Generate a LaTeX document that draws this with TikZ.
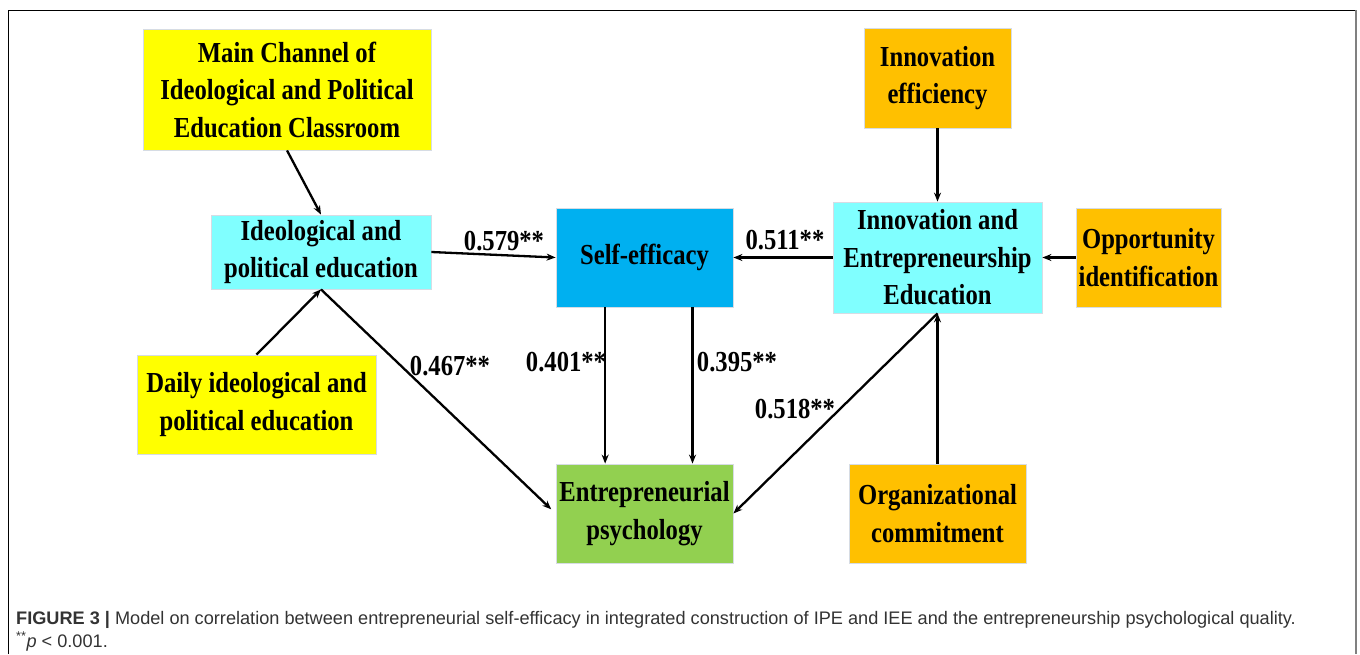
\documentclass[tikz,border=0pt]{standalone}
\usepackage{fontspec}
\newfontfamily\boxfont[FakeStretch=0.85]{Liberation Serif Bold}
\newfontfamily\capfont{Liberation Sans}
\usetikzlibrary{arrows.meta,calc}

\definecolor{cYellow}{HTML}{FFFF00}
\definecolor{cAqua}{HTML}{80FFFF}
\definecolor{cBlue}{HTML}{00B0F0}
\definecolor{cOrange}{HTML}{FFC000}
\definecolor{cGreen}{HTML}{92D050}
\definecolor{cEdge}{HTML}{D6DCE4}
\definecolor{cCap}{HTML}{333333}

\begin{document}
\begin{tikzpicture}[x=1pt,y=-1pt,
  box/.style={draw=cEdge, line width=0.8pt, inner sep=0pt, align=center,
    font=\boxfont\fontsize{29}{37.5}\selectfont},
  coef/.style={font=\boxfont\fontsize{29}{34}\selectfont, inner sep=0pt},
  link/.style={line width=2.3pt, -{Stealth[length=9pt,width=7pt]}},
  captext/.style={anchor=base west, inner sep=0pt, text=cCap,
    font=\capfont\fontsize{18.15}{22}\selectfont}
]
\useasboundingbox (0,0) rectangle (1360,654);

% outer frame
\draw[line width=1pt] (8,654) -- (8,10) -- (1356,10);
\draw[gray, line width=1.2pt] (1356,10) -- (1356,654);

% left branch: ideological and political education
\node[box, fill=cYellow, minimum width=288pt, minimum height=121pt] (main) at (287,89.5)
  {Main Channel of\\Ideological and Political\\Education Classroom};
\node[box, fill=cAqua, minimum width=220pt, minimum height=74pt] (ipe) at (321,252)
  {Ideological and\\political education};
\node[box, fill=cYellow, minimum width=239pt, minimum height=99pt] (daily) at (256.5,404.5)
  {Daily ideological and\\political education};

% centre
\node[box, fill=cBlue, minimum width=177pt, minimum height=99pt] (se) at (644.5,257.5)
  {Self-efficacy};
\node[box, fill=cGreen, minimum width=177pt, minimum height=99pt] (ep) at (644.5,513.5)
  {Entrepreneurial\\psychology};

% right branch: innovation and entrepreneurship education
\node[box, fill=cAqua, minimum width=209pt, minimum height=111pt] (iee) at (937.5,257.5)
  {Innovation and\\Entrepreneurship\\Education};
\node[box, fill=cOrange, minimum width=147pt, minimum height=100pt] (ieff) at (937.5,78)
  {Innovation\\efficiency};
\node[box, fill=cOrange, minimum width=145pt, minimum height=99pt] (opp) at (1148.5,257.5)
  {Opportunity\\identification};
\node[box, fill=cOrange, minimum width=177pt, minimum height=99pt] (org) at (937.5,513.5)
  {Organizational\\commitment};

% connectors
\draw[link] (main.south) -- (ipe.north);
\draw[link] (daily.north) -- (ipe.south);
\draw[link, shorten >=6pt] (ipe.south) -- (ep.west);
\draw[link] (ipe.east) -- (se.west);
\draw[link] (iee.west) -- (se.east);
\draw[link] (opp.west) -- (iee.east);
\draw[link] (ieff.south) -- (iee.north);
\draw[link] (org.north) -- (iee.south);
\draw[link] (iee.south) -- (ep.east);
\draw[link] ($(se.south west)!0.2787!(se.south east)$) -- ($(ep.north west)!0.2787!(ep.north east)$);
\draw[link] ($(se.south west)!0.77!(se.south east)$) -- ($(ep.north west)!0.77!(ep.north east)$);

% path coefficients
\node[coef] (c579) at (504,241) {0.579**};
\node[coef] (c511) at (785,240) {0.511**};
\node[coef] (c467) at (450,366) {0.467**};
\node[coef] (c401) at (566,362) {0.401**};
\node[coef] (c395) at (737,362) {0.395**};
\node[coef] (c518) at (795,409) {0.518**};

% caption
\node[captext] (cap1) at (16,624)
  {\textbf{FIGURE 3 |} Model on correlation between entrepreneurial self-efficacy in integrated construction of IPE and IEE and the entrepreneurship psychological quality.};
\node[captext] (cap2) at (16,647)
  {\textsuperscript{**}\textit{p} < 0.001.};
\end{tikzpicture}
\end{document}
